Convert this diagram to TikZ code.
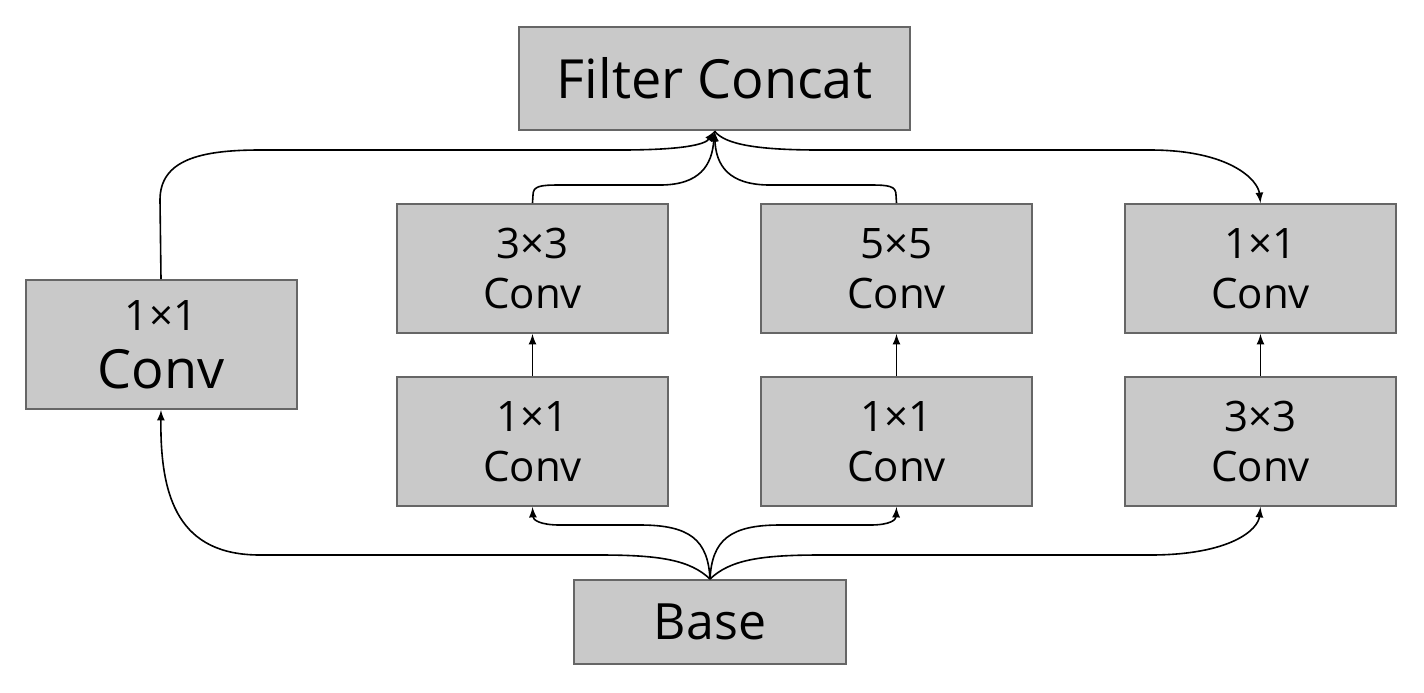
\documentclass[tikz,border=0pt]{standalone}
\usepackage{fontspec}
\setmainfont{Open Sans}
\begin{document}
\begin{tikzpicture}[x=0.5pt,y=-0.5pt,
  box/.style={draw=black!60,fill=black!21,line width=1pt,inner sep=0pt,align=center,font=\fontsize{21}{25}\selectfont},
  cv/.style={box,minimum width=135.5pt,minimum height=64.5pt},
  ln/.style={line width=0.8pt,-latex}]
\useasboundingbox (0,0) rectangle (1424,692);
\node[box,minimum width=195.5pt,minimum height=51.5pt,font=\fontsize{27}{30}\selectfont] (F) at (714.5,78.5) {Filter Concat};
\node[cv] (L) at (161,344.5) {1×1\\[4pt]{\fontsize{27}{30}\selectfont Conv}};
\node[cv] (A1) at (532.5,268.5) {3×3\\Conv};
\node[cv] (B1) at (896.5,268.5) {5×5\\Conv};
\node[cv] (C1) at (1260.5,268.5) {1×1\\Conv};
\node[cv] (A2) at (532.5,441.5) {1×1\\Conv};
\node[cv] (B2) at (896.5,441.5) {1×1\\Conv};
\node[cv] (C2) at (1260.5,441.5) {3×3\\Conv};
\node[box,minimum width=136pt,minimum height=42pt,font=\fontsize{25}{28}\selectfont] (B) at (710,622) {Base};
\draw[ln] (A2) -- (A1);
\draw[ln] (B2) -- (B1);
\draw[ln] (C2) -- (C1);
\draw[ln] (L.north) -- (160,200) .. controls (160,160) and (200,150) .. (260,150) -- (620,150) .. controls (680,150) and (705,145) .. (F.south);
\draw[ln] (A1.north) -- (533,195) .. controls (533,186) and (540,185) .. (560,185) -- (660,185) .. controls (700,185) and (712,165) .. (F.south);
\draw[ln] (B1.north) -- (896,195) .. controls (896,186) and (889,185) .. (870,185) -- (770,185) .. controls (728,185) and (716,165) .. (F.south);
\draw[ln] (F.south) .. controls (725,145) and (760,150) .. (820,150) -- (1150,150) .. controls (1230,150) and (1258,180) .. (C1.north);
\draw[ln] (B.north) .. controls (690,560) and (660,555) .. (600,555) -- (260,555) .. controls (180,555) and (160,500) .. (L.south);
\draw[ln] (B.north) .. controls (708,540) and (690,525) .. (640,525) -- (560,525) .. controls (540,525) and (533,520) .. (A2.south);
\draw[ln] (B.north) .. controls (712,540) and (730,525) .. (780,525) -- (870,525) .. controls (890,525) and (896,520) .. (B2.south);
\draw[ln] (B.north) .. controls (730,560) and (760,555) .. (820,555) -- (1150,555) .. controls (1230,555) and (1258,530) .. (C2.south);
\end{tikzpicture}
\end{document}
